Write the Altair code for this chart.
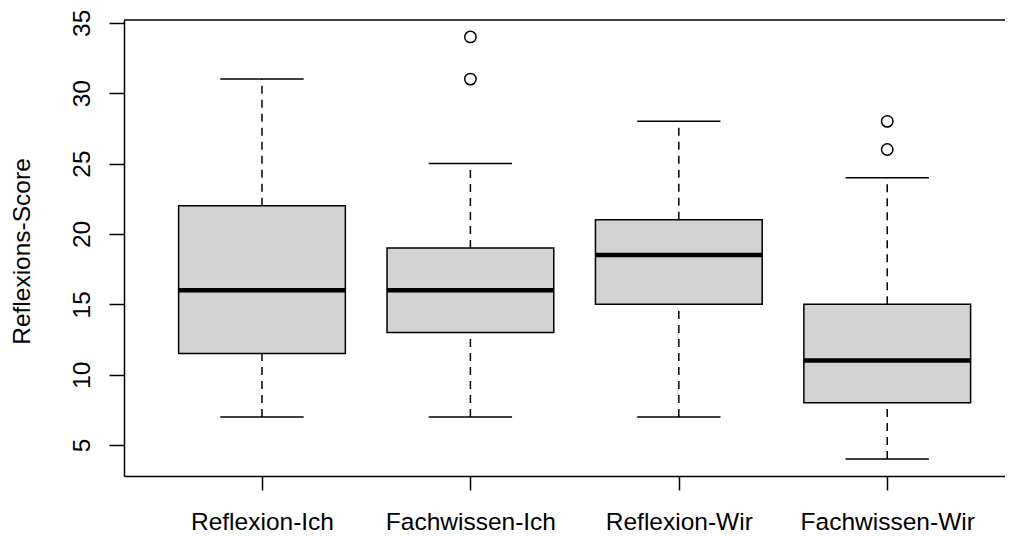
import altair as alt
import pandas as pd

categories = ["Reflexion-Ich", "Fachwissen-Ich", "Reflexion-Wir", "Fachwissen-Wir"]
lower = [7, 7, 7, 4]
q1 = [11.5, 13, 15, 8]
median = [16, 16, 18.5, 11]
q3 = [22, 19, 21, 15]
upper = [31, 25, 28, 24]
outlier_cat = ["Fachwissen-Ich", "Fachwissen-Ich", "Fachwissen-Wir", "Fachwissen-Wir"]
outlier_val = [34, 31, 28, 26]

pos = {c: i + 1 for i, c in enumerate(categories)}
box = pd.DataFrame({
    "cat": categories,
    "p": [pos[c] for c in categories],
    "lower": lower, "q1": q1, "median": median, "q3": q3, "upper": upper,
})
box["bl"] = box["p"] - 0.4
box["br"] = box["p"] + 0.4
box["cl"] = box["p"] - 0.2
box["cr"] = box["p"] + 0.2
out = pd.DataFrame({"cat": outlier_cat, "v": outlier_val})
out["p"] = out["cat"].map(pos)

FONT = "Liberation Sans"
FS = 24.5
W, H = 881, 456
xs = alt.Scale(domain=[0.338, 4.565], nice=False, zero=False)
ys = alt.Scale(domain=[2.8, 35.2], nice=False, zero=False)

label_arr = "[''," + ",".join("'" + c + "'" for c in categories) + "]"

xaxis = alt.Axis(values=[1, 2, 3, 4], labelExpr=label_arr + "[datum.value]", title=None,
                 grid=False, domain=True, domainColor="black", domainWidth=1.5,
                 tickSize=14, tickColor="black", tickWidth=1.5,
                 labelFont=FONT, labelFontSize=FS, labelColor="black", labelPadding=20,
                 labelBaseline="top", labelFlush=False, labelOverlap=False)
yaxis = alt.Axis(values=[5, 10, 15, 20, 25, 30, 35], title="Reflexions-Score", grid=False,
                 domain=True, domainColor="black", domainWidth=1.5,
                 tickSize=15, tickColor="black", tickWidth=1.5,
                 labelFont=FONT, labelFontSize=FS, labelColor="black", labelAngle=-90,
                 labelAlign="center", labelBaseline="alphabetic", labelPadding=20,
                 labelFlush=False, labelOverlap=False,
                 titleFont=FONT, titleFontSize=FS, titleFontWeight="normal", titleColor="black",
                 titleAngle=-90, titleAlign="center", titleBaseline="alphabetic",
                 titleX=-95, titleY=231)


def X(f):
    return alt.X(f, type="quantitative", scale=xs, axis=xaxis)


def Y(f):
    return alt.Y(f, type="quantitative", scale=ys, axis=yaxis)


base = alt.Chart(box)

boxes = base.mark_rect(fill="#d3d3d3", stroke="black", strokeWidth=1.5).encode(
    x=X("bl"), x2="br:Q", y=Y("q1"), y2="q3:Q")
whisk_up = base.mark_rule(color="black", strokeWidth=1.5, strokeDash=[8, 6]).encode(
    x=X("p"), y=Y("q3"), y2="upper:Q")
whisk_lo = base.mark_rule(color="black", strokeWidth=1.5, strokeDash=[8, 6]).encode(
    x=X("p"), y=Y("lower"), y2="q1:Q")
cap_up = base.mark_rule(color="black", strokeWidth=1.5).encode(
    x=X("cl"), x2="cr:Q", y=Y("upper"))
cap_lo = base.mark_rule(color="black", strokeWidth=1.5).encode(
    x=X("cl"), x2="cr:Q", y=Y("lower"))
med = base.mark_rule(color="black", strokeWidth=4.5).encode(
    x=X("bl"), x2="br:Q", y=Y("median"))
pts = alt.Chart(out).mark_point(shape="circle", filled=False, color="black", size=130,
                                strokeWidth=1.5, opacity=1).encode(
    x=X("p"), y=Y("v"))
top = alt.Chart(pd.DataFrame({"k": [0]})).mark_rule(color="black", strokeWidth=1.5).encode(
    x=alt.value(0), x2=alt.value(W + 10), y=alt.value(0))

chart = alt.layer(boxes, whisk_up, whisk_lo, cap_up, cap_lo, med, pts, top).properties(
    width=W, height=H,
    autosize=alt.AutoSizeParams(type="none"),
    padding={"left": 116, "top": 12, "right": 0, "bottom": 60},
    background="white",
).configure_view(strokeWidth=0)

chart.save("out.html", embed_options={"renderer": "svg", "actions": False})
